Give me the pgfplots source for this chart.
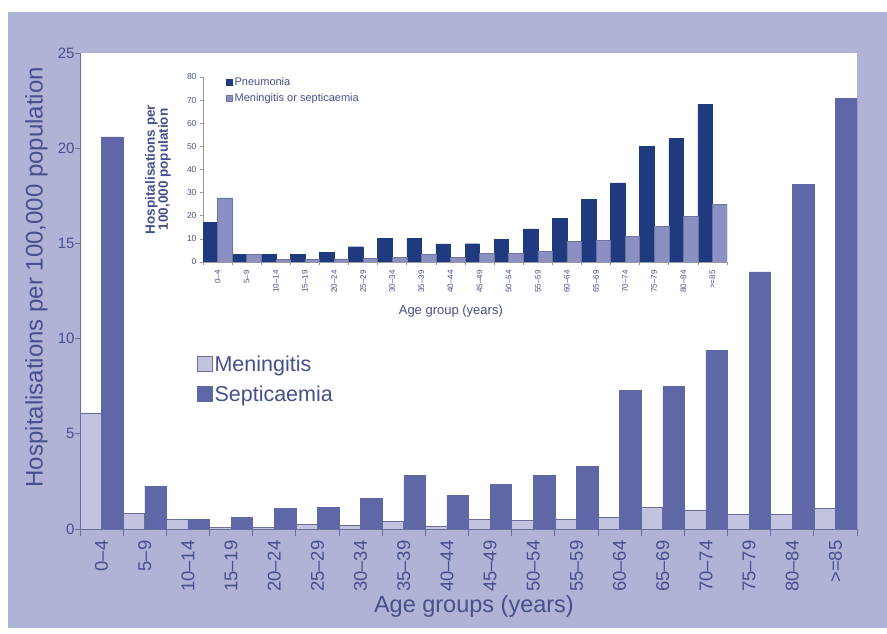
\documentclass[border=0pt]{standalone}
\usepackage{fontspec}
\setmainfont{Liberation Sans}
\usepackage{pgfplots}
\usepackage{pgfplotstable}
\pgfplotsset{compat=1.18}
\definecolor{bg}{HTML}{B0B3D5}
\definecolor{txt}{HTML}{46508C}
\definecolor{axcol}{HTML}{6A6F9A}
\definecolor{sept}{HTML}{5F67A6}
\definecolor{menin}{HTML}{C2C4DF}
\definecolor{pneu}{HTML}{1F3A7E}
\definecolor{ms}{HTML}{8A8FC4}

\pgfplotstableread{
k men sep
0 6.1 20.6
1 0.8 2.25
2 0.5 0.5
3 0.1 0.6
4 0.1 1.1
5 0.25 1.15
6 0.2 1.6
7 0.4 2.8
8 0.15 1.75
9 0.5 2.35
10 0.45 2.8
11 0.5 3.3
12 0.6 7.3
13 1.15 7.5
14 1.0 9.4
15 0.75 13.5
16 0.75 18.1
17 1.1 22.6
}\maindata

\pgfplotstableread{
k pneu ms
0 17 27.7
1 3.2 3.2
2 3.2 1.0
3 3.2 1.0
4 4.2 1.3
5 6.6 1.7
6 10.1 1.9
7 10.1 3.3
8 7.8 1.9
9 7.9 3.6
10 9.7 3.6
11 14.3 4.6
12 19 9.0
13 27 9.5
14 34.2 11.1
15 50.1 15.4
16 53.4 19.8
17 68.1 24.8
}\insetdata

\begin{document}
\begin{tikzpicture}[x=1pt,y=1pt]
\useasboundingbox (0,0) rectangle (887,634);
\fill[bg] (8,6) rectangle (887,622);

% ---------------- main axis ----------------
\begin{axis}[
  at={(80pt,105pt)}, anchor=south west,
  scale only axis, width=777pt, height=476pt,
  xmin=-0.5, xmax=17.5, ymin=0, ymax=25,
  axis background/.style={fill=white},
  axis x line*=bottom, axis y line*=left,
  axis line style={draw=axcol, line width=0.8pt},
  ytick={0,5,...,25},
  xtick={0,...,17},
  xticklabels={0–4,5–9,10–14,15–19,20–24,25–29,30–34,35–39,40–44,45–49,50–54,55–59,60–64,65–69,70–74,75–79,80–84,>=85},
  major x tick style={draw=none},
  minor xtick={-0.5,0.5,...,17.5},
  minor x tick style={draw=axcol, line width=0.8pt},
  minor tick length=7pt,
  major tick length=5pt,
  y tick style={draw=axcol, line width=0.8pt},
  tick align=outside,
  /pgf/number format/assume math mode=true,
  yticklabel style={font=\fontsize{15}{17}\selectfont, text=txt, xshift=3pt},
  xticklabel style={font=\fontsize{18.5}{20}\selectfont, text=txt, rotate=90, anchor=east, xshift=-3pt},
  xlabel={Age groups (years)},
  xlabel style={font=\fontsize{23.5}{26}\selectfont, text=txt, at={(rel axis cs:0.507,-0.162)}, anchor=center},
  ylabel={Hospitalisations per 100,000 population},
  ylabel style={font=\fontsize{24}{26}\selectfont, text=txt, at={(rel axis cs:-0.056,0.529)}, anchor=center},
  legend style={draw=none, fill=none, at={(rel axis cs:0.150,0.368)}, anchor=north west,
     font=\fontsize{21.5}{24}\selectfont, text=txt, row sep=9pt, inner sep=0pt},
  legend cell align=left,
  legend image code/.code={\draw[#1, line width=0.8pt] (0pt,-7pt) rectangle (15pt,8pt);},
]
\addplot[ybar, bar width=0.5, bar shift=-0.25, fill=menin, draw=axcol, line width=0.6pt] table[x=k, y=men] {\maindata};
\addlegendentry{Meningitis}
\addplot[ybar, bar width=0.5, bar shift=0.25, fill=sept, draw=sept, line width=0.4pt] table[x=k, y=sep] {\maindata};
\addlegendentry{Septicaemia}
\end{axis}

% ---------------- inset axis ----------------
\begin{axis}[
  at={(203pt,372pt)}, anchor=south west,
  scale only axis, width=524pt, height=185pt,
  xmin=-0.5, xmax=17.5, ymin=0, ymax=80,
  axis x line*=bottom, axis y line*=left,
  axis line style={draw=gray!80, line width=0.8pt},
  ytick={0,10,...,80},
  xtick={0,...,17},
  xticklabels={0–4,5–9,10–14,15–19,20–24,25–29,30–34,35–39,40–44,45–49,50–54,55–59,60–64,65–69,70–74,75–79,80–84,>=85},
  major x tick style={draw=none},
  minor xtick={-0.5,0.5,...,17.5},
  minor x tick style={draw=gray!80, line width=0.6pt},
  minor tick length=3pt,
  major tick length=3pt,
  y tick style={draw=gray!80, line width=0.6pt},
  tick align=outside,
  /pgf/number format/assume math mode=true,
  yticklabel style={font=\fontsize{8.5}{10}\selectfont, text=txt},
  xticklabel style={font=\fontsize{8}{9}\selectfont, text=txt, rotate=90, anchor=east, xshift=-2pt},
  xlabel={Age group (years)},
  xlabel style={font=\fontsize{13}{15}\selectfont, text=txt, at={(rel axis cs:0.473,-0.265)}, anchor=center},
  ylabel={Hospitalisations per\\100,000 population},
  ylabel style={font=\bfseries\fontsize{13.5}{13}\selectfont, text=txt, align=center, at={(rel axis cs:-0.086,0.50)}, anchor=center},
  legend style={draw=none, fill=none, at={(rel axis cs:0.044,1.01)}, anchor=north west,
     font=\fontsize{11}{12}\selectfont, text=txt, row sep=3pt, inner sep=0pt},
  legend cell align=left,
  legend image code/.code={\draw[#1] (0pt,-3pt) rectangle (6pt,3pt);},
]
\addplot[ybar, bar width=0.5, bar shift=-0.25, fill=pneu, draw=pneu, line width=0.4pt] table[x=k, y=pneu] {\insetdata};
\addlegendentry{Pneumonia}
\addplot[ybar, bar width=0.5, bar shift=0.25, fill=ms, draw=ms!80!black, line width=0.4pt] table[x=k, y=ms] {\insetdata};
\addlegendentry{Meningitis or septicaemia}
\end{axis}
\end{tikzpicture}
\end{document}
